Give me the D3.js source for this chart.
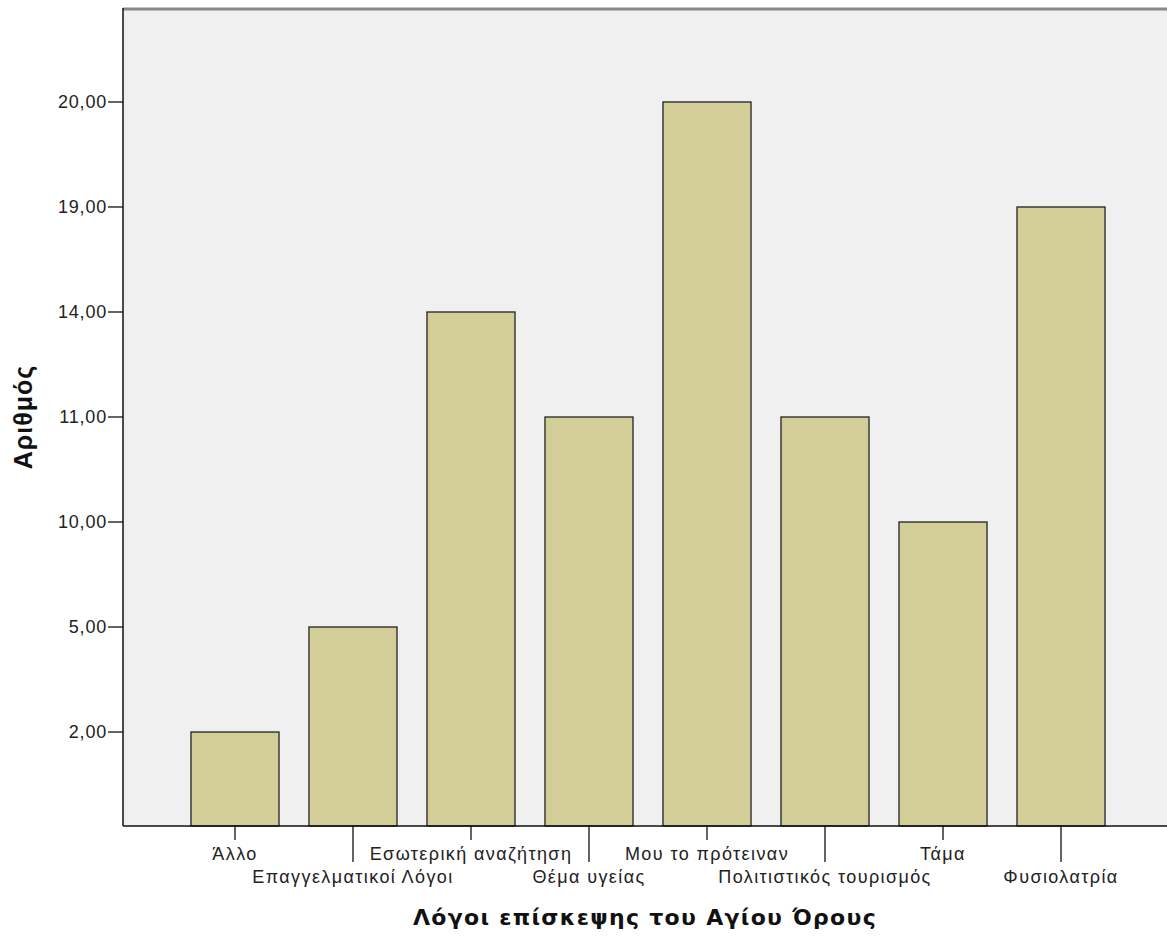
<!DOCTYPE html>
<html>
<head>
<meta charset="utf-8">
<script src="https://cdn.jsdelivr.net/npm/d3@7"></script>
<style>
  body { margin: 0; background: #fff; }
  svg { display: block; }
</style>
</head>
<body>
<svg id="chart"></svg>
<script>
// Reasons for visiting Mount Athos (counts)
const categories = ["Άλλο", "Επαγγελματικοί Λόγοι", "Εσωτερική αναζήτηση", "Θέμα υγείας",
    "Μου το πρότειναν", "Πολιτιστικός τουρισμός", "Τάμα", "Φυσιολατρία"];
const counts = [2, 5, 14, 11, 20, 11, 10, 19];
// SPSS treats the count axis as categorical: distinct values, equally spaced
const yTicks = [2, 5, 10, 11, 14, 19, 20];

const width = 1167, height = 943;
const plot = { left: 123, top: 8, right: 1173, bottom: 826 };

const svg = d3.select("#chart")
    .attr("width", width)
    .attr("height", height);

// plot background
svg.append("rect")
    .attr("x", plot.left)
    .attr("y", plot.top)
    .attr("width", plot.right - plot.left)
    .attr("height", plot.bottom - plot.top)
    .attr("fill", "#f0f0f0");

// top frame line
svg.append("line")
    .attr("x1", plot.left).attr("x2", width)
    .attr("y1", plot.top + 1).attr("y2", plot.top + 1)
    .attr("stroke", "#8a8a8a")
    .attr("stroke-width", 3);

const x = d3.scaleBand()
    .domain(categories)
    .range([plot.left, plot.right])
    .paddingInner(0.254)
    .paddingOuter(0.576);

const y = d3.scalePoint()
    .domain(yTicks)
    .range([plot.bottom, plot.top])
    .padding(0.895);

const fmt = d => d.toFixed(2).replace(".", ",");

// bars
svg.selectAll(".bar")
    .data(categories)
    .enter()
    .append("rect")
    .attr("class", "bar")
    .attr("x", d => x(d))
    .attr("width", x.bandwidth())
    .attr("y", (d, i) => y(counts[i]))
    .attr("height", (d, i) => plot.bottom - y(counts[i]))
    .attr("fill", "#d3ce97")
    .attr("stroke", "#222")
    .attr("stroke-width", 1.3);

// y axis
const yAxis = svg.append("g");
yAxis.append("line")
    .attr("x1", plot.left).attr("x2", plot.left)
    .attr("y1", plot.top).attr("y2", plot.bottom)
    .attr("stroke", "#111").attr("stroke-width", 1.5);

const yt = yAxis.selectAll(".ytick")
    .data(yTicks)
    .enter()
    .append("g")
    .attr("class", "ytick")
    .attr("transform", d => `translate(0,${y(d)})`);
yt.append("line")
    .attr("x1", plot.left - 15).attr("x2", plot.left)
    .attr("stroke", "#111").attr("stroke-width", 1.3);
yt.append("text")
    .attr("x", plot.left - 16)
    .attr("dy", "0.35em")
    .attr("text-anchor", "end")
    .style("font-family", "'Liberation Sans', Arial, sans-serif")
    .style("font-size", "18px")
    .style("letter-spacing", "0.8px")
    .style("fill", "#222")
    .text(fmt);

// x axis
const xAxis = svg.append("g");
xAxis.append("line")
    .attr("x1", plot.left).attr("x2", width)
    .attr("y1", plot.bottom).attr("y2", plot.bottom)
    .attr("stroke", "#111").attr("stroke-width", 1.5);

const xt = xAxis.selectAll(".xtick")
    .data(categories)
    .enter()
    .append("g")
    .attr("class", "xtick")
    .attr("transform", d => `translate(${x(d) + x.bandwidth() / 2},${plot.bottom})`);
xt.append("line")
    .attr("y1", 0)
    .attr("y2", (d, i) => i % 2 ? 36 : 14)
    .attr("stroke", "#111").attr("stroke-width", 1.3);
xt.append("text")
    .attr("y", (d, i) => i % 2 ? 57 : 34)
    .attr("text-anchor", "middle")
    .style("font-family", "'Liberation Sans', Arial, sans-serif")
    .style("font-size", "18px")
    .style("letter-spacing", "1.4px")
    .style("fill", "#222")
    .text(d => d);

// axis titles
svg.append("text")
    .attr("x", (plot.left + width) / 2)
    .attr("y", 925)
    .attr("text-anchor", "middle")
    .style("font-family", "'DejaVu Sans', sans-serif")
    .style("font-weight", "bold")
    .style("font-size", "22px")
    .style("letter-spacing", "1.3px")
    .style("fill", "#111")
    .text("Λόγοι επίσκεψης του Αγίου Όρους");

svg.append("text")
    .attr("transform", "translate(32,417) rotate(-90)")
    .attr("text-anchor", "middle")
    .style("font-family", "'Liberation Sans', Arial, sans-serif")
    .style("font-weight", "bold")
    .style("font-size", "25px")
    .style("letter-spacing", "1px")
    .style("fill", "#111")
    .text("Αριθμός");
</script>
</body>
</html>
